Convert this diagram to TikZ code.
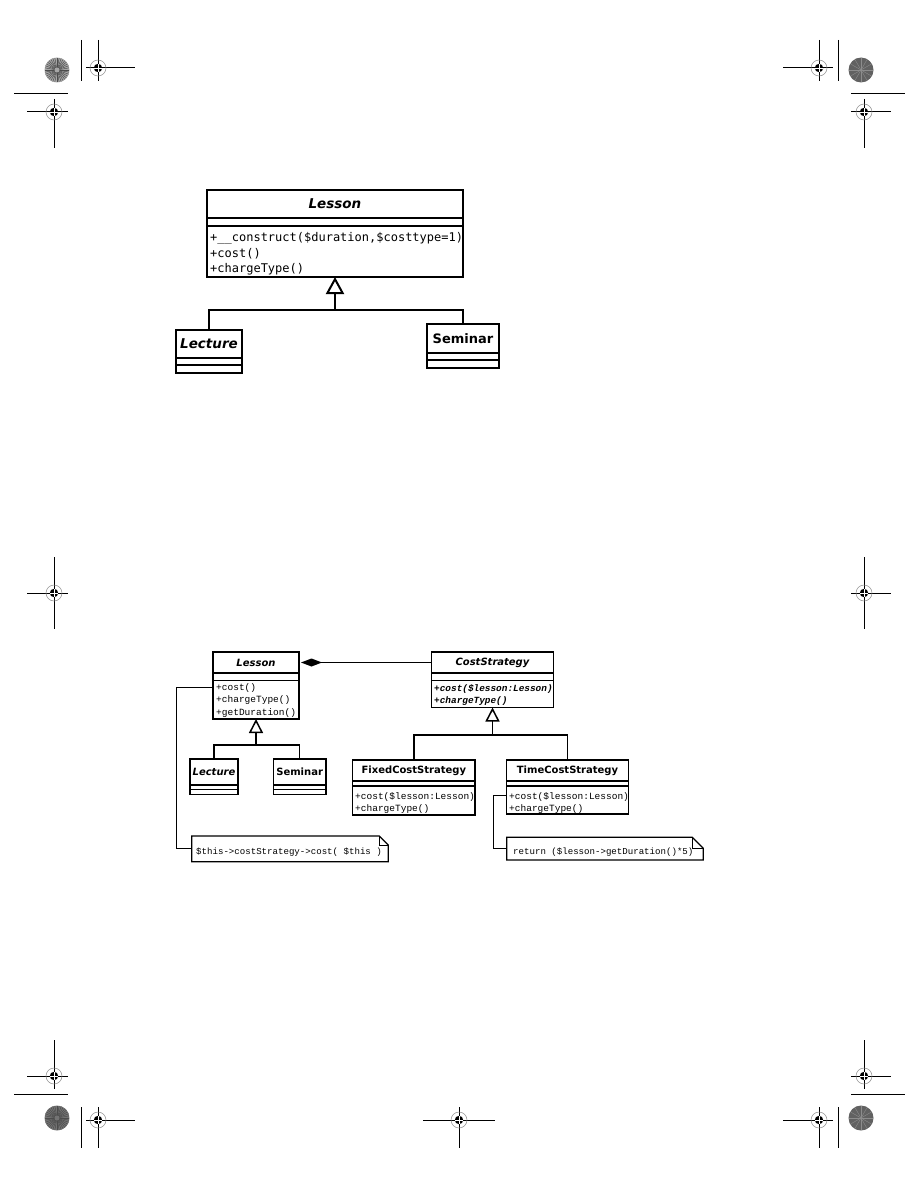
\documentclass[tikz,border=0pt]{standalone}
\usepackage{fontspec}
\usetikzlibrary{arrows.meta}
\newfontfamily\umlsans{DejaVu Sans}
\newfontfamily\umlmonoA{DejaVu Sans Mono}
\newfontfamily\umlmonoB{Liberation Mono}

\newcommand\regmark[6]{% x y xleft xright ytop ybottom
  \draw[line width=1pt] (#3,#2) -- (#4,#2);
  \draw[line width=1pt] (#1,#5) -- (#1,#6);
  \draw[black!45, line width=0.5pt] (#1,#2) circle[radius=8pt];
  \fill[black] (#1,#2) circle[radius=4.2pt];
  \draw[white, line width=0.6pt] (#1-4.2,#2) -- (#1+4.2,#2) (#1,#2-4.2) -- (#1,#2+4.2);
}
\newcommand\stardisc[3]{% x y shade
  \fill[#3] (#1,#2) circle[radius=12.5pt];
  \foreach \a in {0,10,...,350}{\draw[black!70, line width=0.45pt] (#1,#2) -- ++(\a:12.3pt);}
  \fill[#3] (#1,#2) circle[radius=2.5pt];
}

\tikzset{
  bigbox/.style={draw, rectangle, line width=2pt, outer sep=0pt, inner sep=0pt},
  smallbox/.style={draw, rectangle, line width=1.5pt, outer sep=0pt, inner sep=0pt},
  bignameabs/.style={font=\umlsans\bfseries\itshape\fontsize{13.5}{16}\selectfont},
  bigname/.style={font=\umlsans\bfseries\fontsize{13}{16}\selectfont},
  smallnameabs/.style={font=\umlsans\bfseries\itshape\fontsize{10}{12}\selectfont},
  smallname/.style={font=\umlsans\bfseries\fontsize{10}{12}\selectfont},
  opA/.style={font=\umlmonoA\fontsize{12}{14}\selectfont, inner sep=0pt, anchor=west},
  opB/.style={font=\umlmonoB\fontsize{9.5}{12}\selectfont, inner sep=0pt, anchor=west},
  opBabs/.style={font=\umlmonoB\bfseries\itshape\fontsize{9.4}{12}\selectfont, inner sep=0pt, anchor=west},
  notetext/.style={font=\umlmonoB\fontsize{9.1}{12}\selectfont, inner sep=0pt, anchor=west},
  notebox/.style={rectangle, outer sep=0pt, inner sep=0pt},
  notepath/.style={line width=1.3pt},
  noteline/.style={line width=1.4pt},
  genbig/.style={line width=2pt},
  gensmall/.style={line width=1.5pt},
}

\begin{document}
\begin{tikzpicture}[x=1pt,y=-1pt]
\useasboundingbox (0,0) rectangle (918,1188);
\fill[white] (0,0) rectangle (918,1188);

% ---------------- registration marks ----------------
\stardisc{57}{70}{black!35}
\stardisc{57}{1118}{black!55}
\fill[black!62] (861,70) circle[radius=12.5pt];
\foreach \a in {0,30,...,330}{\draw[black!45, line width=0.4pt] (861,70) -- ++(\a:12pt);}
\fill[black!62] (861,1118) circle[radius=12.5pt];
\foreach \a in {0,30,...,330}{\draw[black!45, line width=0.4pt] (861,1118) -- ++(\a:12pt);}

\regmark{98}{68}{86}{135}{40}{81}
\regmark{54}{112}{27}{68}{99}{148}
\regmark{819}{68}{783}{833}{40}{81}
\regmark{864}{112}{851}{891}{99}{148}
\regmark{54}{593}{27}{68}{557}{629}
\regmark{864}{593}{851}{891}{557}{629}
\regmark{54}{1076}{27}{68}{1040}{1089}
\regmark{98}{1120}{86}{135}{1107}{1148}
\regmark{864}{1076}{851}{891}{1040}{1089}
\regmark{819}{1120}{783}{833}{1107}{1148}
\regmark{459}{1120}{423}{495}{1107}{1148}
\draw[line width=1pt] (81,40) -- (81,81);
\draw[line width=1pt] (838,40) -- (838,81);
\draw[line width=1pt] (81,1107) -- (81,1148);
\draw[line width=1pt] (838,1107) -- (838,1148);
\draw[line width=1pt] (14,94) -- (68,94);
\draw[line width=1pt] (851,94) -- (905,94);
\draw[line width=1pt] (14,1094) -- (68,1094);
\draw[line width=1pt] (851,1094) -- (905,1094);

% ---------------- upper diagram ----------------
\node[bigbox, bignameabs, minimum width=256pt, minimum height=28pt, anchor=north west] (lessonA) at (207,190) {Lesson};
\node[bigbox, minimum width=256pt, minimum height=8pt, anchor=north] (lessonA-attr) at (lessonA.south) {};
\node[bigbox, minimum width=256pt, minimum height=51pt, anchor=north] (lessonA-ops) at (lessonA-attr.south) {};
\node[opA] (lessonA-m1) at (210,238.5) {+\_\_construct(\$duration,\$costtype=1)};
\node[opA] (lessonA-m2) at (210,254) {+cost()};
\node[opA] (lessonA-m3) at (210,269.5) {+chargeType()};

\node[bigbox, bignameabs, minimum width=66pt, minimum height=28pt, anchor=north west] (lectureA) at (176,330) {Lecture};
\node[bigbox, minimum width=66pt, minimum height=7pt, anchor=north] (lectureA-attr) at (lectureA.south) {};
\node[bigbox, minimum width=66pt, minimum height=8pt, anchor=north] (lectureA-ops) at (lectureA-attr.south) {};

\node[bigbox, bigname, minimum width=72pt, minimum height=28.5pt, anchor=north west] (seminarA) at (427,324) {Seminar};
\node[bigbox, minimum width=72pt, minimum height=7.5pt, anchor=north] (seminarA-attr) at (seminarA.south) {};
\node[bigbox, minimum width=72pt, minimum height=8pt, anchor=north] (seminarA-ops) at (seminarA-attr.south) {};

\coordinate (hubA) at (335,310);
\draw[genbig] (lectureA.north) |- (hubA) -| (seminarA.north);
\draw[genbig, -{Triangle[open, length=17pt, width=18pt]}] (hubA) -- (lessonA-ops.south);

% ---------------- lower diagram ----------------
\node[smallbox, smallnameabs, minimum width=86pt, minimum height=21pt, anchor=north west] (lessonB) at (213,652) {Lesson};
\node[smallbox, minimum width=86pt, minimum height=7.5pt, anchor=north] (lessonB-attr) at (lessonB.south) {};
\node[smallbox, minimum width=86pt, minimum height=38.5pt, anchor=north] (lessonB-ops) at (lessonB-attr.south) {};
\node[opB] (lessonB-m1) at (216,688) {+cost()};
\node[opB] (lessonB-m2) at (216,700.5) {+chargeType()};
\node[opB] (lessonB-m3) at (216,713) {+getDuration()};

\node[smallbox, smallnameabs, minimum width=121.6pt, minimum height=21pt, anchor=north west] (costS) at (431.7,652) {CostStrategy};
\node[smallbox, minimum width=121.6pt, minimum height=7.5pt, anchor=north] (costS-attr) at (costS.south) {};
\node[smallbox, minimum width=121.6pt, minimum height=27pt, anchor=north] (costS-ops) at (costS-attr.south) {};
\node[opBabs] (costS-m1) at (434,689) {+cost(\$lesson:Lesson)};
\node[opBabs] (costS-m2) at (434,701) {+chargeType()};

\node[smallbox, smallnameabs, minimum width=48pt, minimum height=26pt, anchor=north west] (lectureB) at (190,759) {Lecture};
\node[smallbox, minimum width=48pt, minimum height=4.5pt, anchor=north] (lectureB-attr) at (lectureB.south) {};
\node[smallbox, minimum width=48pt, minimum height=5pt, anchor=north] (lectureB-ops) at (lectureB-attr.south) {};

\node[smallbox, smallname, minimum width=52.7pt, minimum height=26pt, anchor=north west] (seminarB) at (273.3,759) {Seminar};
\node[smallbox, minimum width=52.7pt, minimum height=4.5pt, anchor=north] (seminarB-attr) at (seminarB.south) {};
\node[smallbox, minimum width=52.7pt, minimum height=5pt, anchor=north] (seminarB-ops) at (seminarB-attr.south) {};

\node[smallbox, smallname, minimum width=122.3pt, minimum height=21pt, anchor=north west] (fixedS) at (352.7,760) {FixedCostStrategy};
\node[smallbox, minimum width=122.3pt, minimum height=5pt, anchor=north] (fixedS-attr) at (fixedS.south) {};
\node[smallbox, minimum width=122.3pt, minimum height=29pt, anchor=north] (fixedS-ops) at (fixedS-attr.south) {};
\node[opB] (fixedS-m1) at (355,796.7) {+cost(\$lesson:Lesson)};
\node[opB] (fixedS-m2) at (355,809) {+chargeType()};

\node[smallbox, smallname, minimum width=121.6pt, minimum height=21pt, anchor=north west] (timeS) at (506.7,760) {TimeCostStrategy};
\node[smallbox, minimum width=121.6pt, minimum height=5pt, anchor=north] (timeS-attr) at (timeS.south) {};
\node[smallbox, minimum width=121.6pt, minimum height=28pt, anchor=north] (timeS-ops) at (timeS-attr.south) {};
\node[opB] (timeS-m1) at (509,796.7) {+cost(\$lesson:Lesson)};
\node[opB] (timeS-m2) at (509,809) {+chargeType()};

% composition
\draw[gensmall, {Diamond[length=21pt, width=8pt]}-] ([xshift=2pt]lessonB.east) -- (costS.west);

% generalisations
\coordinate (hubB) at (256,745);
\draw[gensmall] (lectureB.north) |- (hubB) -| (seminarB.north);
\draw[gensmall, -{Triangle[open, length=14pt, width=14pt]}] (hubB) -- (lessonB-ops.south);

\coordinate (hubC) at (492.5,735);
\draw[gensmall] (fixedS.north) |- (hubC) -| (timeS.north);
\draw[gensmall, -{Triangle[open, length=14pt, width=14pt]}] (hubC) -- (costS-ops.south);

% notes
\node[notebox, minimum width=196.6pt, minimum height=25.7pt, anchor=north west] (note1) at (191.7,836) {};
\draw[notepath, fill=white] (note1.north west) -- ([xshift=-9pt]note1.north east) -- ([yshift=-9pt]note1.north east) -- (note1.south east) -- (note1.south west) -- cycle;
\draw[line width=1pt] ([xshift=-9pt]note1.north east) -- ([xshift=-9pt,yshift=-9pt]note1.north east) -- ([yshift=-9pt]note1.north east);
\node[notetext] (note1-text) at (196,852) {\$this->costStrategy->cost( \$this )};

\node[notebox, minimum width=196.6pt, minimum height=22.7pt, anchor=north west] (note2) at (506.7,837.3) {};
\draw[notepath, fill=white] (note2.north west) -- ([xshift=-11pt]note2.north east) -- ([yshift=-11pt]note2.north east) -- (note2.south east) -- (note2.south west) -- cycle;
\draw[line width=1pt] ([xshift=-11pt]note2.north east) -- ([xshift=-11pt,yshift=-11pt]note2.north east) -- ([yshift=-11pt]note2.north east);
\node[notetext] (note2-text) at (513,852) {return (\$lesson->getDuration()*5)};

\coordinate (lessonB-att) at ([yshift=-7pt]lessonB-ops.north west);
\draw[line width=1.1pt] (lessonB-att) -- ++(-36.6,0) |- (note1.west);
\coordinate (timeS-att) at ([yshift=-9.7pt]timeS-ops.north west);
\draw[noteline] (timeS-att) -- ++(-13.4,0) |- (note2.west);
\end{tikzpicture}
\end{document}
